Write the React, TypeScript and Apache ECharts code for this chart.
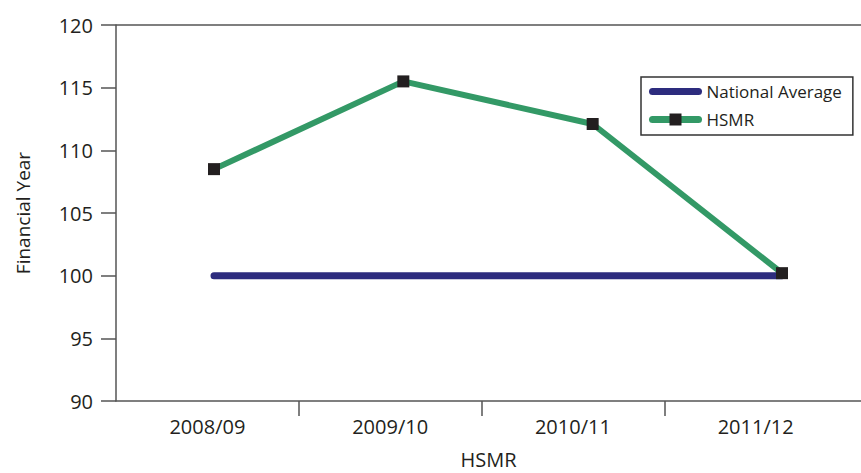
import React, { useEffect, useRef } from "react";
import * as echarts from "echarts";

// Financial years shown along the bottom axis
const categories = ["2008/09", "2009/10", "2010/11", "2011/12"];
// HSMR per financial year
const hsmr = [108.5, 115.5, 112.1, 100.2];
// National average reference line
const nationalAverage = [100, 100, 100, 100];
// Value axis range
const yMin = 90;
const yMax = 120;
const yStep = 5;
// Band boundaries between the year labels (only the inner ones get a tick)
const bandEdges = ["", "", "", "", ""];

const FONT = "'Open Sans', 'Noto Sans', sans-serif";
const TEXT = "#231f20";
const AXIS = "#555555";
const NAVY = "#2d2c7e";
const GREEN = "#339966";

export default function App() {
  const ref = useRef<HTMLDivElement>(null);

  useEffect(() => {
    if (!ref.current) return;
    const chart = echarts.init(ref.current, undefined, { renderer: "svg" });
    const top = 25;
    const bottom = 72;
    const nLines = (yMax - yMin) / yStep + 1;
    const splitColors = Array.from({ length: nLines }, (_, i) =>
      i === nLines - 1 ? AXIS : "rgba(0,0,0,0)"
    );

    chart.setOption({
      animation: false,
      textStyle: { fontFamily: FONT, color: TEXT },
      grid: [
        { left: 116, right: 0, top, bottom, outerBoundsMode: "none" },
        { left: 116, right: 14, top, bottom, outerBoundsMode: "none" },
        { left: 214, right: 79, top, bottom, outerBoundsMode: "none" },
      ],
      xAxis: [
        {
          gridIndex: 0,
          type: "category",
          position: "bottom",
          data: categories,
          axisLine: { show: true, lineStyle: { color: AXIS, width: 1.5 } },
          axisTick: { show: false },
          axisLabel: { show: false },
          name: "HSMR",
          nameLocation: "middle",
          nameGap: 48,
          nameTextStyle: { fontSize: 20, color: TEXT, fontFamily: FONT },
        },
        {
          gridIndex: 1,
          type: "category",
          position: "bottom",
          data: categories,
          boundaryGap: true,
          axisLine: { show: false },
          axisTick: { show: false },
          axisLabel: { fontSize: 20, color: TEXT, margin: 15, fontFamily: FONT },
        },
        {
          gridIndex: 1,
          type: "category",
          position: "bottom",
          data: bandEdges,
          boundaryGap: false,
          axisLine: { show: false },
          axisLabel: { show: false },
          axisTick: {
            show: true,
            length: 15,
            interval: (i: number) => i > 0 && i < bandEdges.length - 1,
            lineStyle: { color: AXIS, width: 1.5 },
          },
        },
        {
          gridIndex: 2,
          type: "category",
          data: categories,
          boundaryGap: false,
          show: false,
        },
      ],
      yAxis: [
        {
          gridIndex: 0,
          type: "value",
          min: yMin,
          max: yMax,
          interval: yStep,
          axisLine: { show: true, lineStyle: { color: AXIS, width: 1.5 } },
          axisTick: { show: true, length: 15, lineStyle: { color: AXIS, width: 1.5 } },
          axisLabel: { fontSize: 20, color: TEXT, margin: 23, fontFamily: FONT },
          splitLine: { show: true, lineStyle: { color: splitColors, width: 1.5 } },
          name: "Financial Year",
          nameLocation: "middle",
          nameGap: 84,
          nameTextStyle: { fontSize: 19, color: TEXT, fontFamily: FONT },
        },
        { gridIndex: 1, type: "value", min: yMin, max: yMax, show: false },
        { gridIndex: 2, type: "value", min: yMin, max: yMax, show: false },
      ],
      legend: {
        left: 641,
        top: 77,
        orient: "vertical",
        padding: [6, 11, 7, 8],
        itemGap: 11,
        itemWidth: 46,
        itemHeight: 15,
        borderColor: "#333333",
        borderWidth: 1.5,
        borderRadius: 0,
        lineStyle: { width: 7, cap: "round" },
        textStyle: { fontSize: 17, color: TEXT, fontFamily: FONT, padding: [0, 0, 0, 3] },
        data: [
          { name: "National Average", itemStyle: { opacity: 0 } },
          { name: "HSMR" },
        ],
      },
      series: [
        {
          name: "National Average",
          type: "line",
          xAxisIndex: 3,
          yAxisIndex: 2,
          data: nationalAverage,
          symbol: "none",
          color: NAVY,
          lineStyle: { color: NAVY, width: 7, cap: "round" },
          z: 2,
        },
        {
          name: "HSMR",
          type: "line",
          xAxisIndex: 3,
          yAxisIndex: 2,
          data: hsmr,
          symbol: "rect",
          symbolSize: 12,
          color: GREEN,
          itemStyle: { color: "#231f20", borderWidth: 0 },
          lineStyle: { color: GREEN, width: 6, cap: "round", join: "round" },
          z: 3,
        },
      ],
    });

    return () => chart.dispose();
  }, []);

  return <div ref={ref} style={{ width: 861, height: 473, position: "absolute", left: 0, top: 0 }} />;
}
